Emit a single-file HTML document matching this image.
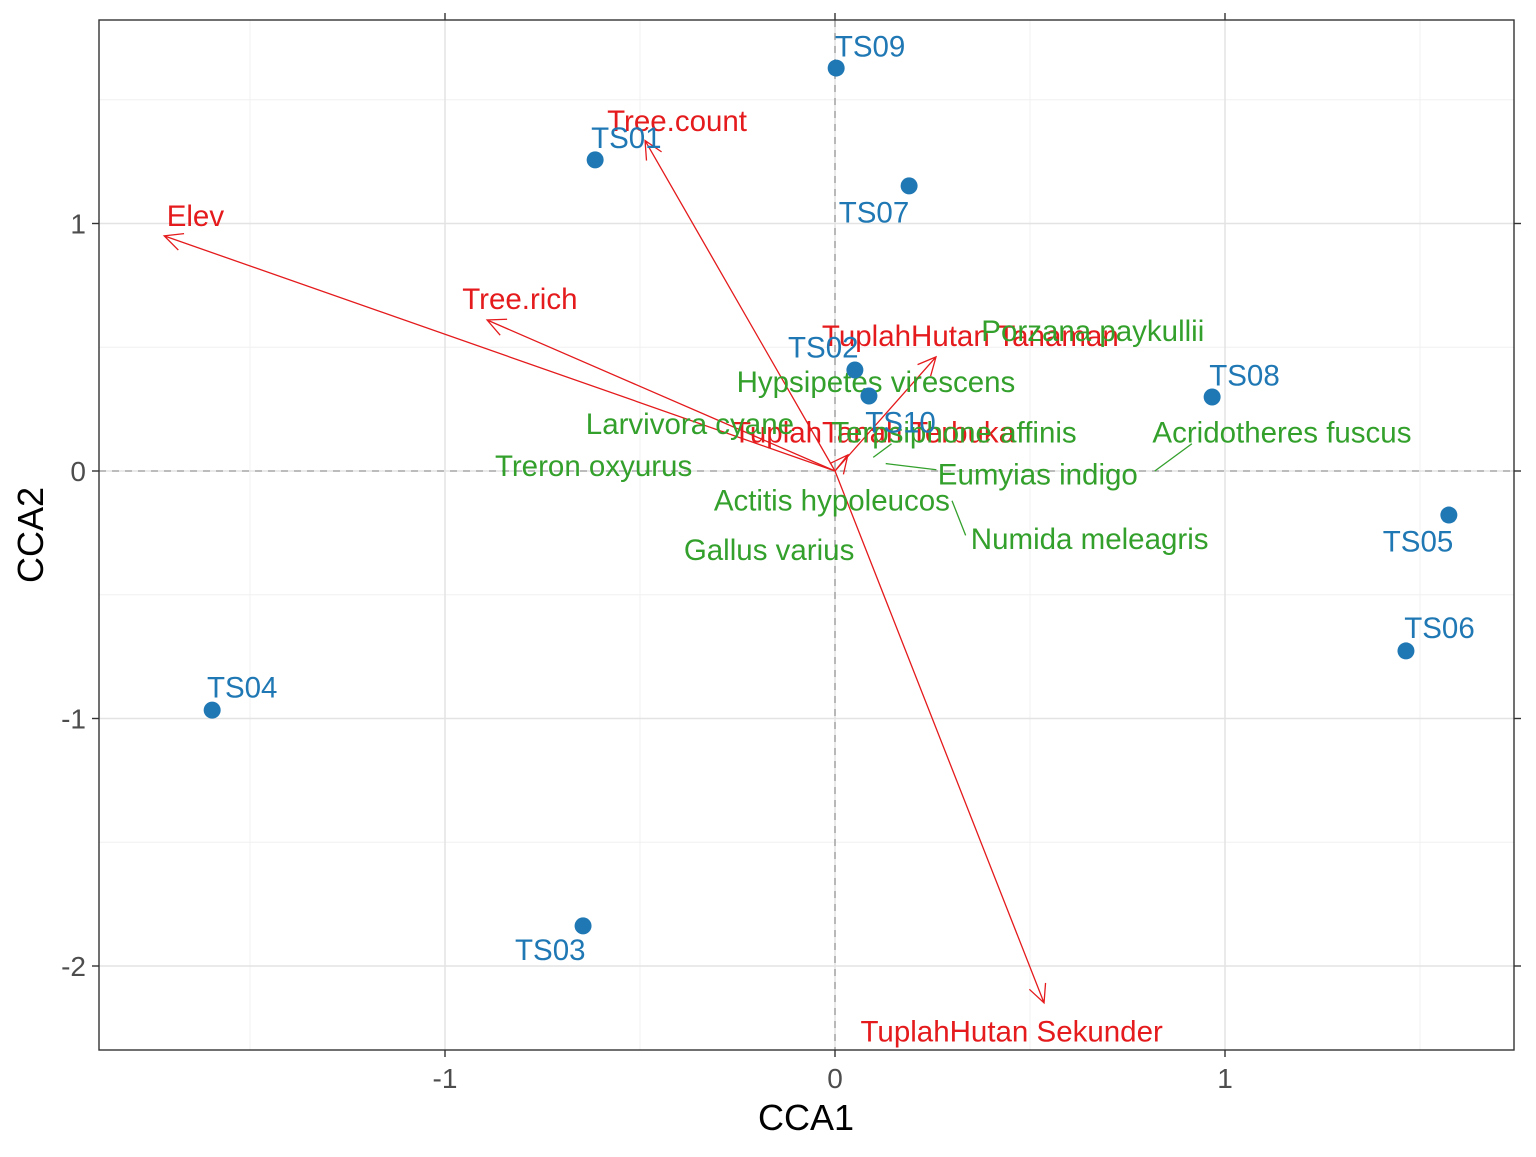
<!DOCTYPE html>
<html><head><meta charset="utf-8"><style>
html,body{margin:0;padding:0;background:#fff}
svg text{font-family:"Liberation Sans",Arial,sans-serif}
</style></head><body>
<svg id="chart" width="1536" height="1152" xmlns="http://www.w3.org/2000/svg">
<rect width="1536" height="1152" fill="#fff"/>
<g id="grid"></g>
<g id="arrows"></g>
<g id="segs"></g>
<g id="labels"></g>
<g id="pts"></g>
<rect x="99" y="20" width="1415" height="1030" fill="none" stroke="#333" stroke-width="1.4"/>
<g id="axes"></g>
<text x="806" y="1130" font-size="36" text-anchor="middle" fill="#000">CCA1</text>
<text transform="translate(43,535) rotate(-90)" font-size="36" text-anchor="middle" fill="#000">CCA2</text>
</svg>
<script>
const xTicks=[-1,0,1];
const yTicks=[1,0,-1,-2];
const xMinor=[-1.5,-0.5,0.5,1.5];
const yMinor=[1.5,0.5,-0.5,-1.5];
const siteNames=["TS01","TS02","TS03","TS04","TS05","TS06","TS07","TS08","TS09","TS10"];
const siteX=[-0.615,0.051,-0.646,-1.597,1.574,1.464,0.19,0.967,0.003,0.087];
const siteY=[1.257,0.408,-1.838,-0.966,-0.178,-0.727,1.152,0.299,1.628,0.303];
const siteLabX=[-0.535,-0.03,-0.73,-1.52,1.495,1.55,0.1,1.05,0.09,0.168];
const siteLabY=[1.345,0.5,-1.935,-0.875,-0.285,-0.635,1.045,0.385,1.715,0.195];
const envNames=["Elev","Tree.count","Tree.rich","TuplahHutan Tanaman","TuplahHutan Sekunder","TuplahTanah Terbuka"];
const envX=[-1.72,-0.487,-0.892,0.259,0.536,0.033];
const envY=[0.95,1.335,0.61,0.461,-2.149,0.065];
const envLabX=[-1.64,-0.405,-0.808,0.347,0.453,0.1];
const envLabY=[1.03,1.415,0.695,0.545,-2.265,0.155];
const spNames=["Porzana paykullii","Hypsipetes virescens","Larvivora cyane","Terpsiphone affinis","Acridotheres fuscus","Eumyias indigo","Treron oxyurus","Actitis hypoleucos","Numida meleagris","Gallus varius"];
const spLabX=[0.661,0.105,-0.372,0.305,1.146,0.52,-0.619,-0.008,0.653,-0.169];
const spLabY=[0.565,0.36,0.19,0.155,0.155,-0.015,0.02,-0.12,-0.275,-0.32];
const spSegX1=[null,null,null,0.098,0.82,0.13,null,null,0.3,null];
const spSegY1=[null,null,null,0.055,0.0,0.03,null,null,-0.12,null];
const spSegX2=[null,null,null,0.145,0.915,0.26,null,null,0.335,null];
const spSegY2=[null,null,null,0.11,0.11,0.005,null,null,-0.26,null];

const X=v=>835+v*390, Y=v=>471-v*247.5;
const NS="http://www.w3.org/2000/svg";
const FS=29.5;
function mk(tag,parent,attrs){const e=document.createElementNS(NS,tag);for(const k in attrs)e.setAttribute(k,attrs[k]);document.getElementById(parent).appendChild(e);return e;}
xMinor.forEach(v=>{const e=mk('line','grid',{x1:X(v),x2:X(v),y1:20,y2:1050,stroke:'#f0f0f0','stroke-width':1});

});
yMinor.forEach(v=>{const e=mk('line','grid',{x1:99,x2:1514,y1:Y(v),y2:Y(v),stroke:'#f0f0f0','stroke-width':1});

});
xTicks.forEach(v=>{const e=mk('line','grid',{x1:X(v),x2:X(v),y1:20,y2:1050,stroke:'#e3e3e3','stroke-width':1.5});


[[1050,1057],[13,20]].forEach(p=>{const t=mk('line','axes',{x1:X(v),x2:X(v),y1:p[0],y2:p[1],stroke:'#333','stroke-width':1.4});

});
const l=mk('text','axes',{x:X(v),y:1088,'font-size':28,'text-anchor':'middle',fill:'#4d4d4d'});l.textContent=v;

});
yTicks.forEach(v=>{const e=mk('line','grid',{x1:99,x2:1514,y1:Y(v),y2:Y(v),stroke:'#e3e3e3','stroke-width':1.5});


[[92,99],[1514,1521]].forEach(p=>{const t=mk('line','axes',{x1:p[0],x2:p[1],y1:Y(v),y2:Y(v),stroke:'#333','stroke-width':1.4});

});
const l=mk('text','axes',{x:86,y:Y(v)+10,'font-size':28,'text-anchor':'end',fill:'#4d4d4d'});l.textContent=v;

});
const zx=mk('line','grid',{x1:X(0),x2:X(0),y1:20,y2:1050,stroke:'#aaa','stroke-width':1.6,'stroke-dasharray':'7,6'});


const zy=mk('line','grid',{x1:99,x2:1514,y1:Y(0),y2:Y(0),stroke:'#aaa','stroke-width':1.6,'stroke-dasharray':'7,6'});



envNames.forEach((n,i)=>{const x0=X(0),y0=Y(0),x1=X(envX[i]),y1=Y(envY[i]);
const a=Math.atan2(y1-y0,x1-x0),h=20,s=0.45;
const d=`M${x0},${y0}L${x1},${y1}M${x1-h*Math.cos(a-s)},${y1-h*Math.sin(a-s)}L${x1},${y1}L${x1-h*Math.cos(a+s)},${y1-h*Math.sin(a+s)}`;
const p=mk('path','arrows',{d:d,stroke:'#e41a1c','stroke-width':1.3,fill:'none'});


const t=mk('text','labels',{x:X(envLabX[i]),y:Y(envLabY[i])+10,'font-size':FS,'text-anchor':'middle',fill:'#e41a1c'});t.textContent=n;

});

spNames.forEach((n,i)=>{if(spSegX1[i]!==null){const s=mk('line','segs',{x1:X(spSegX1[i]),y1:Y(spSegY1[i]),x2:X(spSegX2[i]),y2:Y(spSegY2[i]),stroke:'#33a02c','stroke-width':1.3});

}
const t=mk('text','labels',{x:X(spLabX[i]),y:Y(spLabY[i])+10,'font-size':FS,'text-anchor':'middle',fill:'#33a02c'});t.textContent=n;

});

siteNames.forEach((n,i)=>{const c=mk('circle','pts',{cx:X(siteX[i]),cy:Y(siteY[i]),r:8.5,fill:'#1f78b4'});


const t=mk('text','labels',{x:X(siteLabX[i]),y:Y(siteLabY[i])+10,'font-size':FS,'text-anchor':'middle',fill:'#1f78b4'});t.textContent=n;

});
</script>
</body></html>
